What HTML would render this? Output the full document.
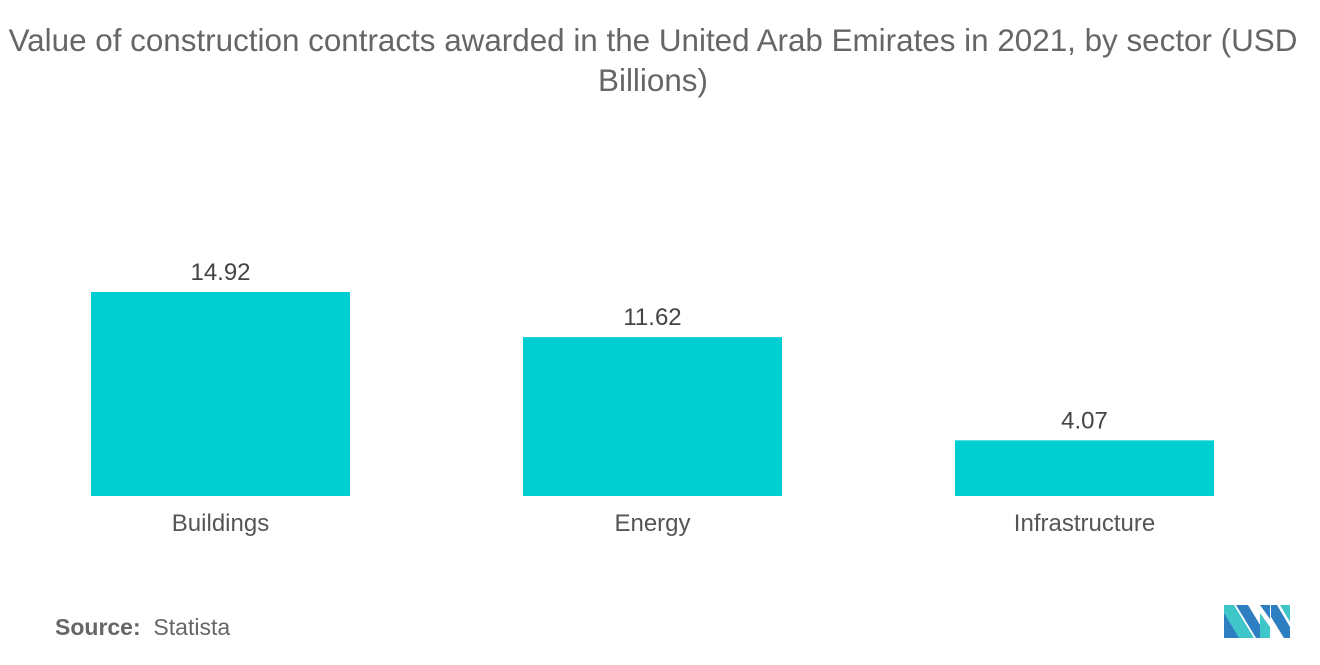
<!DOCTYPE html>
<html><head><meta charset="utf-8"><style>
body{margin:0;background:#fff;font-family:"Liberation Sans",sans-serif;}
#wrap{position:relative;width:1320px;height:665px;overflow:hidden;}
.title{position:absolute;left:-40px;width:1386px;top:21px;text-align:center;font-size:31.4px;line-height:40px;color:#666;white-space:nowrap;}
.src{position:absolute;left:55px;top:614px;font-size:23px;color:#666;}
</style></head><body>
<div id="wrap">
<div class="title">Value of construction contracts awarded in the United Arab Emirates in 2021, by sector (USD<br>Billions)</div>
<svg id="chart" width="1320" height="665" style="position:absolute;left:0;top:0"></svg>
<div class="src"><b>Source:</b>&nbsp; Statista</div>
<svg style="position:absolute;left:1224px;top:605px" width="66" height="33" viewBox="0 0 66 33">
<polygon points="0,0 10,0 30,33 0,33" fill="#3fc6c8"/>
<polygon points="0,8 0,33 15,33" fill="#2e7fc1"/>
<polygon points="12,0 24,0 44,33 32,33" fill="#2e7fc1"/>
<polygon points="36,0 46,0 46,14" fill="#2e7fc1"/>
<polygon points="47,0 53,0 66,22 66,33 60,33 47,12" fill="#2e7fc1"/>
<polygon points="56,0 66,0 66,17" fill="#3fc6c8"/>
<polygon points="36,8 46,22 46,33 36,33" fill="#3fc6c8"/>
</svg>
</div>
<script>
const categories=["Buildings","Energy","Infrastructure"];
const values=[14.92,11.62,4.07];
const labels=["14.92","11.62","4.07"];
const svg=document.getElementById('chart');
const NS="http://www.w3.org/2000/svg";
const baseY=496, pxPer=204/14.92;
const y=v=>baseY-v*pxPer;
const x0=91, step=432, bw=259;
const x=i=>x0+i*step;
categories.forEach((c,i)=>{
 const r=document.createElementNS(NS,'rect');
 r.setAttribute('x',x(i));r.setAttribute('y',y(values[i]));
 r.setAttribute('width',bw);r.setAttribute('height',baseY-y(values[i]));
 r.setAttribute('fill','#00ced1');
 
 
 svg.appendChild(r);
 const t=document.createElementNS(NS,'text');
 t.setAttribute('x',x(i)+bw/2);t.setAttribute('y',y(values[i])-12);
 t.setAttribute('text-anchor','middle');t.setAttribute('font-size','24');t.setAttribute('fill','#444');
 t.textContent=labels[i];
 
 
 svg.appendChild(t);
 const l=document.createElementNS(NS,'text');
 l.setAttribute('x',x(i)+bw/2);l.setAttribute('y',531);
 l.setAttribute('text-anchor','middle');l.setAttribute('font-size','24');l.setAttribute('fill','#555');
 l.textContent=c;
 
 
 svg.appendChild(l);
});
</script>
</body></html>
